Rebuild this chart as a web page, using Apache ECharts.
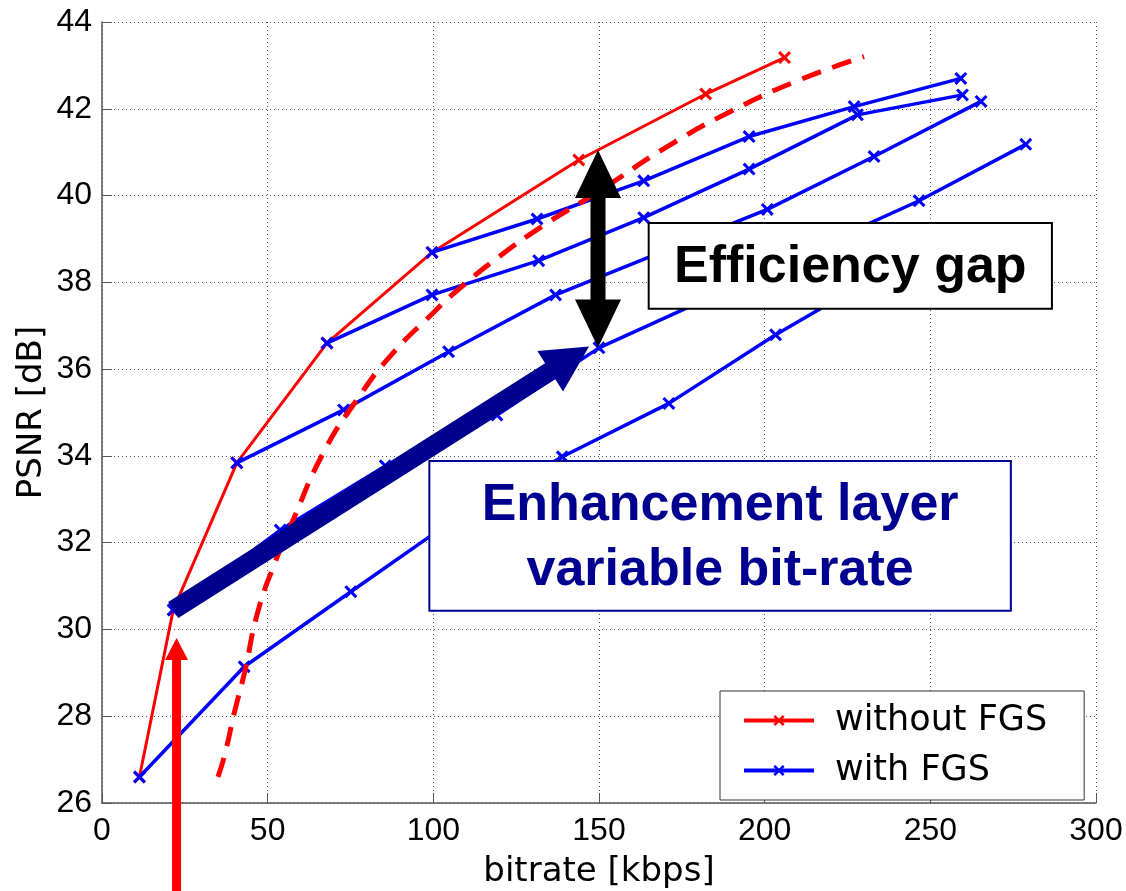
<!DOCTYPE html>
<html>
<head>
<meta charset="utf-8">
<title>PSNR vs bitrate - FGS</title>
<script src="https://cdn.jsdelivr.net/npm/echarts@6/dist/echarts.min.js"></script>
<style>
  html, body { margin: 0; padding: 0; background: #fff; }
  #main-chart { width: 1126px; height: 891px; }
</style>
</head>
<body>
<div id="main-chart"></div>
<script>
// =========================================
// data: [bitrate kbps, PSNR dB]
// =========================================
const withoutFgs = [[11.3, 26.6], [21.5, 30.45], [40.7, 33.84], [67.9, 36.6], [99.6, 38.69], [143.9, 40.82], [182.2, 42.34], [206, 43.18]];
const withoutFgsDashed = [[35, 26.6], [37, 27.1], [40, 28.1], [43, 29.0], [47, 30.4], [52, 31.5], [57, 32.4], [67, 34.1], [77, 35.3], [87, 36.3], [100, 37.3], [107, 37.8], [120, 38.6], [133, 39.3], [150, 40.1], [170, 41.1], [190, 41.95], [210, 42.65], [230, 43.2]];

const fgsBase100 = [[99.6, 38.69], [131.3, 39.46], [163.5, 40.34], [195.3, 41.36], [227, 42.05], [259.2, 42.7]];
const fgsBase68 = [[67.9, 36.6], [99.6, 37.71], [131.8, 38.5], [163.5, 39.49], [195.3, 40.61], [228, 41.86], [259.7, 42.32]];
const fgsBase41 = [[40.7, 33.84], [72.9, 35.06], [104.6, 36.4], [136.9, 37.71], [169, 38.7], [200.8, 39.68], [233, 40.9], [265.3, 42.17]];
const fgsBase22 = [[21.5, 30.45], [53.8, 32.29], [85.5, 33.77], [119.2, 34.94], [150, 36.49], [182, 37.6], [214, 38.75], [246.6, 39.88], [278.8, 41.18]];
const fgsBase11 = [[11.3, 26.6], [42.9, 29.14], [75.1, 30.87], [107.5, 32.6], [138.9, 33.98], [171.1, 35.21], [203.3, 36.79], [235, 38.2]];

const legendNames = ['without FGS', 'with FGS'];

// annotation anchors (data coords)
const gapArrow = { x: 149.7, top: 41.05, bottom: 36.5 };
const gapBox = { x0: 165, x1: 286.7, y0: 39.37, y1: 37.39, text: 'Efficiency gap' };
const enhArrow = { from: [21.5, 30.45], to: [147, 36.52] };
const enhBox = { x0: 98.8, x1: 274.3, y0: 33.88, y1: 30.43, text: 'Enhancement layer\nvariable bit-rate' };
const baseArrow = { x: 22.5, tip: 29.8 };

// =========================================
const RED = '#ff0000';
const BLUE = '#0000ff';
const NAVY = '#000090';
const X_MARK = 'path://M0,2L2,0L6,4L10,0L12,2L8,6L12,10L10,12L6,8L2,12L0,10L4,6Z';

function blueSeries(data) {
    return {
        name: 'with FGS',
        type: 'line',
        data: data,
        symbol: X_MARK,
        symbolSize: 13,
        showSymbol: true,
        lineStyle: { color: BLUE, width: 3.5 },
        itemStyle: { color: BLUE },
        z: 3
    };
}

const chart = echarts.init(document.getElementById('main-chart'), null, { renderer: 'canvas' });

chart.setOption({
    animation: false,
    backgroundColor: '#fff',
    grid: { left: 102, right: 30, top: 22, bottom: 88, outerBoundsMode: 'none' },
    legend: {
        data: legendNames,
        orient: 'vertical',
        left: 720,
        top: 691,
        padding: [12, 37, 12, 22],
        itemWidth: 70,
        itemHeight: 14,
        itemGap: 15,
        backgroundColor: '#fff',
        borderColor: '#333',
        borderWidth: 1,
        borderRadius: 0,
        lineStyle: { width: 4 },
        textStyle: { fontFamily: 'DejaVu Sans', fontSize: 35, color: '#000', lineHeight: 32, padding: [0, 0, 0, 16] },
        z: 20
    },
    xAxis: {
        type: 'value',
        min: 0, max: 300, interval: 50,
        name: 'bitrate [kbps]',
        nameLocation: 'middle',
        nameGap: 52,
        nameMoveOverlap: false,
        nameTextStyle: { fontFamily: 'DejaVu Sans', fontSize: 34, color: '#000' },
        axisLine: { show: true, onZero: false, lineStyle: { color: '#555', width: 1.5 } },
        axisTick: { show: true, inside: true, length: 10, lineStyle: { color: '#555' } },
        axisLabel: { fontFamily: 'Liberation Sans', fontSize: 32, color: '#000', margin: 12 },
        splitLine: { show: true, lineStyle: { color: '#555', type: [1, 3], width: 1 } }
    },
    yAxis: {
        type: 'value',
        min: 26, max: 44, interval: 2,
        name: 'PSNR [dB]',
        nameLocation: 'middle',
        nameGap: 53,
        nameMoveOverlap: false,
        nameTextStyle: { fontFamily: 'DejaVu Sans', fontSize: 34, color: '#000' },
        axisLine: { show: true, onZero: false, lineStyle: { color: '#555', width: 1.5 } },
        axisTick: { show: true, inside: true, length: 10, lineStyle: { color: '#555' } },
        axisLabel: { fontFamily: 'Liberation Sans', fontSize: 32, color: '#000', margin: 10 },
        splitLine: { show: true, lineStyle: { color: '#555', type: [1, 3], width: 1 } }
    },
    series: [
        {
            name: 'without FGS',
            type: 'line',
            data: withoutFgs,
            symbol: X_MARK,
            symbolSize: 13,
            lineStyle: { color: RED, width: 3 },
            itemStyle: { color: RED },
            z: 2
        },
        blueSeries(fgsBase100),
        blueSeries(fgsBase68),
        blueSeries(fgsBase41),
        blueSeries(fgsBase22),
        blueSeries(fgsBase11),
        {
            name: 'without FGS (dashed)',
            type: 'line',
            data: withoutFgsDashed,
            smooth: true,
            showSymbol: false,
            symbol: 'none',
            lineStyle: { color: RED, width: 5, type: [20, 12] },
            itemStyle: { color: RED },
            z: 4
        }
    ]
});

// =========================================
// annotations (arrows & boxes) placed from data coords
// =========================================
function px(x, y) {
    return chart.convertToPixel({ gridIndex: 0 }, [x, y]);
}

function arrowPoints(p0, p1, w, hl, hw, both) {
    const dx = p1[0] - p0[0], dy = p1[1] - p0[1];
    const len = Math.sqrt(dx * dx + dy * dy);
    const u = [dx / len, dy / len];
    const n = [-u[1], u[0]];
    const at = (p, a, b) => [p[0] + u[0] * a + n[0] * b, p[1] + u[1] * a + n[1] * b];
    const pts = [];
    if (both) {
        pts.push(p0.slice());
        pts.push(at(p0, hl, hw / 2));
        pts.push(at(p0, hl, w / 2));
    } else {
        pts.push(at(p0, 0, w / 2));
    }
    pts.push(at(p1, -hl, w / 2));
    pts.push(at(p1, -hl, hw / 2));
    pts.push(p1.slice());
    pts.push(at(p1, -hl, -hw / 2));
    pts.push(at(p1, -hl, -w / 2));
    if (both) {
        pts.push(at(p0, hl, -w / 2));
        pts.push(at(p0, hl, -hw / 2));
    } else {
        pts.push(at(p0, 0, -w / 2));
    }
    return pts;
}

function buildAnnotations() {
    const H = chart.getHeight();
    const g = [];

    // red arrow from below the axis up to the base layer point
    const rTip = px(baseArrow.x, baseArrow.tip);
    g.push({
        type: 'polygon', z: 50,
        shape: { points: arrowPoints([rTip[0], H + 5], rTip, 9, 22, 23, false) },
        style: { fill: RED }
    });

    // navy arrow along enhancement layer
    g.push({
        type: 'polygon', z: 50,
        shape: { points: arrowPoints(px(enhArrow.from[0], enhArrow.from[1]), px(enhArrow.to[0], enhArrow.to[1]), 19, 46, 48, false) },
        style: { fill: NAVY }
    });

    // black double arrow (efficiency gap)
    g.push({
        type: 'polygon', z: 50,
        shape: { points: arrowPoints(px(gapArrow.x, gapArrow.bottom), px(gapArrow.x, gapArrow.top), 15, 48, 46, true) },
        style: { fill: '#000' }
    });

    // efficiency gap box
    const a = px(gapBox.x0, gapBox.y0), b = px(gapBox.x1, gapBox.y1);
    g.push({
        type: 'rect', z: 51,
        shape: { x: a[0], y: a[1], width: b[0] - a[0], height: b[1] - a[1] },
        style: { fill: '#fff', stroke: '#000', lineWidth: 2 }
    });
    g.push({
        type: 'text', z: 52,
        style: {
            text: gapBox.text, x: (a[0] + b[0]) / 2, y: (a[1] + b[1]) / 2 + 2,
            align: 'center', verticalAlign: 'middle',
            font: 'bold 52px "Liberation Sans", Arial, sans-serif', fill: '#000'
        }
    });

    // enhancement layer box
    const c = px(enhBox.x0, enhBox.y0), d = px(enhBox.x1, enhBox.y1);
    g.push({
        type: 'rect', z: 51,
        shape: { x: c[0], y: c[1], width: d[0] - c[0], height: d[1] - c[1] },
        style: { fill: '#fff', stroke: NAVY, lineWidth: 2 }
    });
    g.push({
        type: 'text', z: 52,
        style: {
            text: enhBox.text, x: (c[0] + d[0]) / 2, y: (c[1] + d[1]) / 2 + 2,
            align: 'center', verticalAlign: 'middle', lineHeight: 65,
            font: 'bold 52px "Liberation Sans", Arial, sans-serif', fill: NAVY
        }
    });

    chart.setOption({ graphic: g });
}

buildAnnotations();
window.addEventListener('resize', () => { chart.resize(); buildAnnotations(); });
</script>
</body>
</html>
